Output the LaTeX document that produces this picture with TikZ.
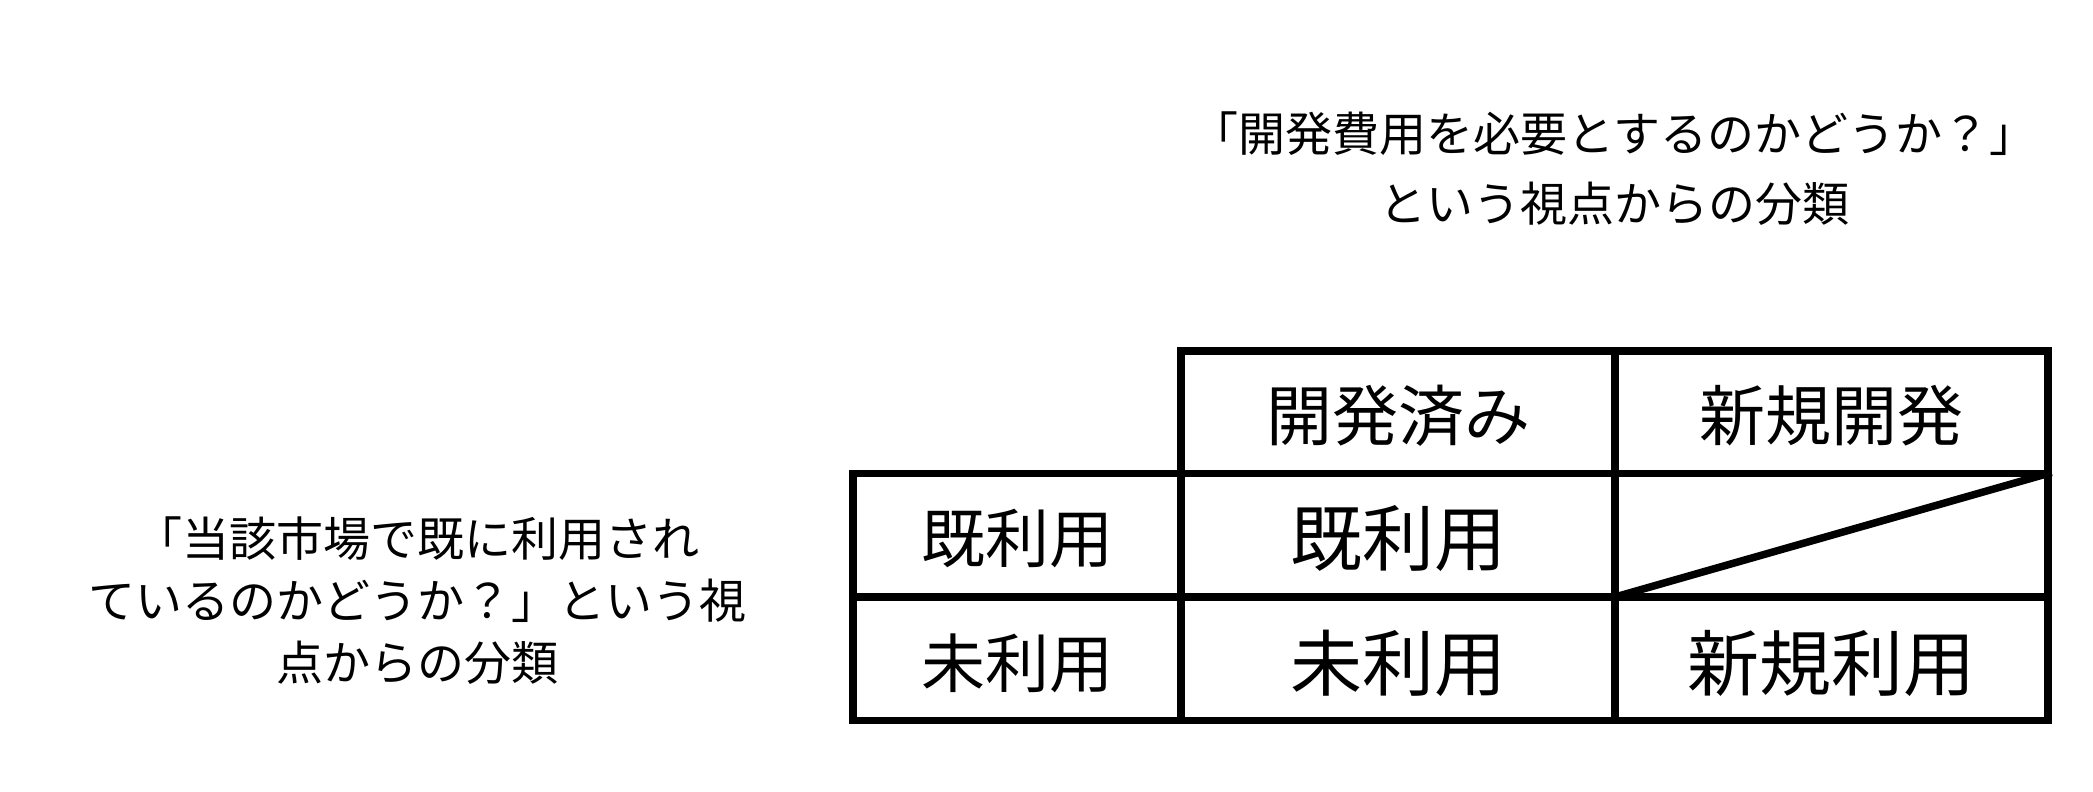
\documentclass[tikz,border=0pt]{standalone}
\usepackage{fontspec}
\newfontfamily\jp{Noto Sans CJK JP}
\begin{document}
\begin{tikzpicture}[x=0.5pt,y=-0.5pt,
  grid/.style={line width=3.75pt,line join=miter,line cap=rect},
  note/.style={inner sep=0pt,align=center,font=\jp\fontsize{23.5}{35}\selectfont},
  note2/.style={inner sep=0pt,align=center,font=\jp\fontsize{23.5}{31}\selectfont},
  cellsm/.style={inner sep=0pt,font=\jp\fontsize{32}{38}\selectfont},
  cellhd/.style={inner sep=0pt,font=\jp\fontsize{33}{40}\selectfont},
  cellbg/.style={inner sep=0pt,font=\jp\fontsize{36}{43}\selectfont}]
\useasboundingbox (0,0) rectangle (2093,792);
% grid coordinates
\coordinate (A) at (1181,351);
\coordinate (B) at (2048,351);
\coordinate (C) at (2048,720.5);
\coordinate (D) at (853,720.5);
\coordinate (E) at (853,473.5);
\coordinate (F) at (1181,473.5);
\coordinate (R1) at (2048,473.5);
\coordinate (R2a) at (853,597);
\coordinate (R2b) at (2048,597);
\coordinate (C1b) at (1181,720.5);
\coordinate (C2a) at (1615,351);
\coordinate (C2b) at (1615,720.5);
\coordinate (X) at (1615,597);
% outline
\draw[grid] (A) -- (B) -- (C) -- (D) -- (E) -- (F) -- cycle;
\draw[grid] (F) -- (R1);
\draw[grid] (R2a) -- (R2b);
\draw[grid] (F) -- (C1b);
\draw[grid] (C2a) -- (C2b);
\draw[grid] (X) -- (R1);
% cell texts
\node[cellhd] (h1) at (1398,416) {開発済み};
\node[cellhd] (h2) at (1831.5,416) {新規開発};
\node[cellsm] (r1) at (1017,539) {既利用};
\node[cellsm] (r2) at (1017,663) {未利用};
\node[cellbg] (m1) at (1398,539) {既利用};
\node[cellbg] (m2) at (1398,663) {未利用};
\node[cellbg] (n2) at (1831.5,663) {新規利用};
% notes
\node[note] (top) at (1614,169) {「開発費用を必要とするのかどうか？」\\という視点からの分類};
\node[note2] (left) at (417,601) {「当該市場で既に利用され\\ているのかどうか？」という視\\点からの分類};
\end{tikzpicture}
\end{document}
